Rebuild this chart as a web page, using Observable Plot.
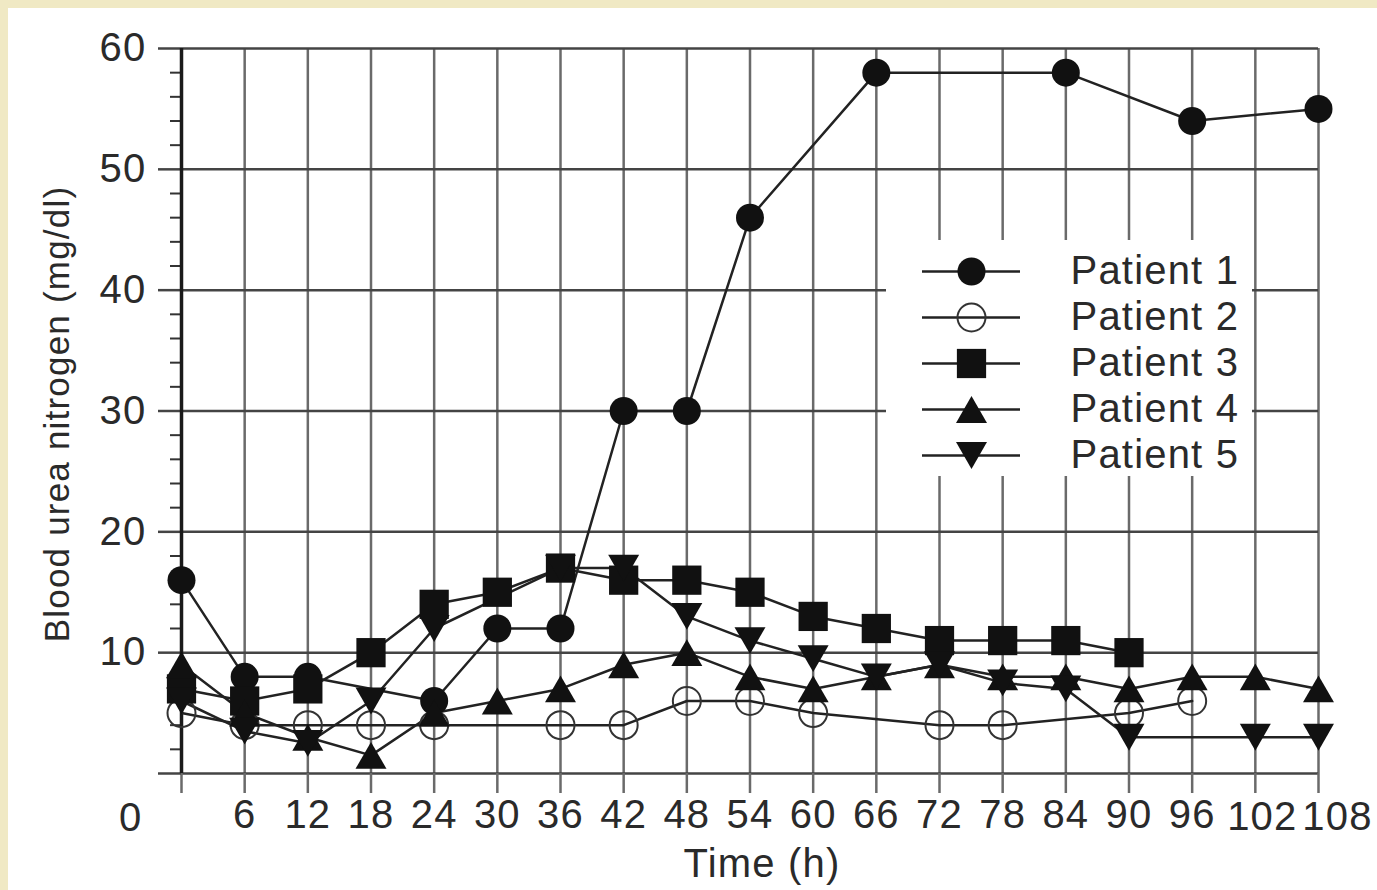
<!DOCTYPE html>
<html>
<head>
<meta charset="utf-8">
<script src="https://cdn.jsdelivr.net/npm/d3@7"></script>
<script src="https://cdn.jsdelivr.net/npm/@observablehq/plot@0.6"></script>
<style>
html, body { margin: 0; padding: 0; background: #f0e9c4; width: 1377px; height: 890px; overflow: hidden; }
#wrap { position: absolute; left: 8px; top: 8px; width: 1369px; height: 882px; background: #ffffff; }
#legend { position: absolute; left: 878px; top: 232px; width: 366px; height: 236px; background: #ffffff; }
</style>
</head>
<body>
<div id="wrap"><div id="legend"></div></div>
<script>
// ---- data ----
const patients = ["Patient 1", "Patient 2", "Patient 3", "Patient 4", "Patient 5"];

const p1Hours = [0, 6, 12, 24, 30, 36, 42, 48, 54, 66, 84, 96, 108];
const p1Bun   = [16, 8, 8, 6, 12, 12, 30, 30, 46, 58, 58, 54, 55];

const p2Hours = [0, 6, 12, 18, 24, 36, 42, 48, 54, 60, 72, 78, 90, 96];
const p2Bun   = [5, 4, 4, 4, 4, 4, 4, 6, 6, 5, 4, 4, 5, 6];

const p3Hours = [0, 6, 12, 18, 24, 30, 36, 42, 48, 54, 60, 66, 72, 78, 84, 90];
const p3Bun   = [7, 6, 7, 10, 14, 15, 17, 16, 16, 15, 13, 12, 11, 11, 11, 10];

const p4Hours = [0, 6, 12, 18, 24, 30, 36, 42, 48, 54, 60, 66, 72, 78, 84, 90, 96, 102, 108];
const p4Bun   = [9, 5, 3, 1.5, 5, 6, 7, 9, 10, 8, 7, 8, 9, 8, 8, 7, 8, 8, 7];

const p5Hours = [0, 6, 12, 18, 24, 36, 42, 48, 54, 60, 66, 72, 78, 84, 90, 102, 108];
const p5Bun   = [6, 3.5, 2.5, 6, 12, 17, 17, 13, 11, 9.5, 8, 9, 7.5, 7, 3, 3, 3];

const xAxisTicks  = [0, 6, 12, 18, 24, 30, 36, 42, 48, 54, 60, 66, 72, 78, 84, 90, 96, 102, 108];
const xWideLabels = [102, 108];   // three-digit labels, set slightly right in the reference
const yAxisTicks  = [0, 10, 20, 30, 40, 50, 60];
const yMinorTicks = [2, 4, 6, 8, 12, 14, 16, 18, 22, 24, 26, 28, 32, 34, 36, 38, 42, 44, 46, 48, 52, 54, 56, 58];
const xDomain = [0, 108];
const yDomain = [0, 60];
const xTitle = "Time (h)";
const yTitle = "Blood urea nitrogen (mg/dl)";
const originLabel = ["0"];

// ---- table ----
const series = [
  {patient: patients[0], hours: p1Hours, bun: p1Bun},
  {patient: patients[1], hours: p2Hours, bun: p2Bun},
  {patient: patients[2], hours: p3Hours, bun: p3Bun},
  {patient: patients[3], hours: p4Hours, bun: p4Bun},
  {patient: patients[4], hours: p5Hours, bun: p5Bun}
];
const rows = series.flatMap(s => s.hours.map((h, i) => ({patient: s.patient, hour: h, bun: s.bun[i]})));

// bounding-box centred triangles
const triangleUp = {
  draw(ctx, size) {
    const a = Math.sqrt(4 * size / Math.sqrt(3)), h = a * Math.sqrt(3) / 2;
    ctx.moveTo(0, -h / 2); ctx.lineTo(a / 2, h / 2); ctx.lineTo(-a / 2, h / 2); ctx.closePath();
  }
};
const triangleDown = {
  draw(ctx, size) {
    const a = Math.sqrt(4 * size / Math.sqrt(3)), h = a * Math.sqrt(3) / 2;
    ctx.moveTo(0, h / 2); ctx.lineTo(a / 2, -h / 2); ctx.lineTo(-a / 2, -h / 2); ctx.closePath();
  }
};

const markerStyle = {
  "Patient 1": {symbol: "circle", r: 14, fill: "#111"},
  "Patient 2": {symbol: "circle", r: 14, fill: "none", stroke: "#333", strokeWidth: 2},
  "Patient 3": {symbol: "square", r: 16.5, fill: "#111"},
  "Patient 4": {symbol: triangleUp, r: 11.5, fill: "#111"},
  "Patient 5": {symbol: triangleDown, r: 11.5, fill: "#111"}
};

const font = "'Liberation Sans', Arial, Helvetica, sans-serif";
const baseStyle = {fontFamily: font, fontSize: "40px", color: "#2a2a2a", background: "transparent", letterSpacing: "1.2px"};

const chart = Plot.plot({
  width: 1369, height: 882,
  marginLeft: 173, marginRight: 59, marginTop: 40, marginBottom: 117,
  x: {domain: xDomain},
  y: {domain: yDomain},
  style: baseStyle,
  marks: [
    Plot.gridX(xAxisTicks, {stroke: "#6a6a6a", strokeOpacity: 1, strokeWidth: 2.5}),
    Plot.gridY(yAxisTicks, {stroke: "#444", strokeOpacity: 1, strokeWidth: 2.5}),
    Plot.axisX(xAxisTicks, {tickSize: 20, tickPadding: 6, stroke: "#6a6a6a", strokeWidth: 2.5,
      tickFormat: d => (d === 0 || xWideLabels.includes(d)) ? "" : String(d), label: null}),
    Plot.text([xWideLabels[0]], {x: d => d, y: yDomain[0], text: d => String(d), dx: 7, dy: 44, lineAnchor: "middle"}),
    Plot.text([xWideLabels[1]], {x: d => d, y: yDomain[0], text: d => String(d), dx: 19, dy: 44, lineAnchor: "middle"}),
    Plot.axisY(yAxisTicks, {tickSize: 23, tickPadding: 12, stroke: "#444", strokeWidth: 2.5,
      tickFormat: d => d === 0 ? "" : String(d), label: null}),
    Plot.axisY(yMinorTicks, {tickSize: 11, stroke: "#333", strokeWidth: 2, tickFormat: () => "", label: null}),
    Plot.ruleX([xDomain[0]], {stroke: "#1a1a1a", strokeWidth: 3.5}),
    Plot.line(rows, {x: "hour", y: "bun", z: "patient", stroke: "#222", strokeWidth: 2.5}),
    ...patients.map(p => Plot.dot(rows.filter(d => d.patient === p), {x: "hour", y: "bun", ...markerStyle[p]})),
    Plot.text(originLabel, {x: xDomain[0], y: yDomain[0], text: d => d, textAnchor: "end", lineAnchor: "middle", dx: -39, dy: 45}),
    Plot.text([xTitle], {frameAnchor: "bottom", text: d => d, textAnchor: "middle", lineAnchor: "middle", dx: 12, dy: 91}),
    Plot.text([yTitle], {frameAnchor: "left", text: d => d, rotate: -90, textAnchor: "middle", lineAnchor: "middle",
      dx: -124, dy: 3, fontSize: 35})
  ]
});
document.getElementById("wrap").insertBefore(chart, document.getElementById("legend"));

const legend = Plot.plot({
  width: 366, height: 236, margin: 0,
  x: {domain: [0, 1], range: [36, 134], axis: null},
  y: {type: "point", domain: patients, range: [30, 215], padding: 0, axis: null},
  style: baseStyle,
  marks: [
    Plot.ruleY(patients, {y: d => d, x1: 0, x2: 1, stroke: "#222", strokeWidth: 2.5}),
    ...patients.map(p => Plot.dot([p], {x: 0.5, y: d => d, ...markerStyle[p]})),
    Plot.text(patients, {x: 1, y: d => d, text: d => d, textAnchor: "start", dx: 50})
  ]
});
document.getElementById("legend").appendChild(legend);
</script>
</body>
</html>
